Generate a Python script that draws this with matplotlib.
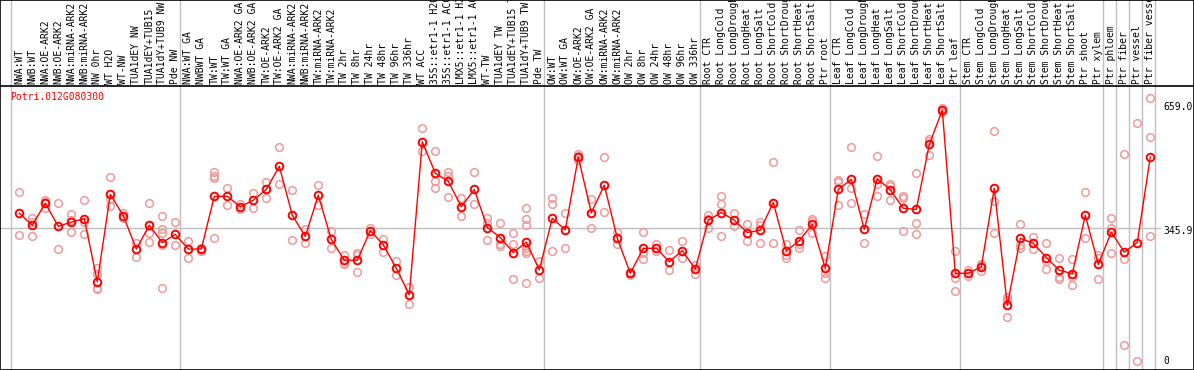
import numpy as np
import matplotlib
matplotlib.use("Agg")
import matplotlib.pyplot as plt

# sample labels, grouped as in the chart (group sizes give the grey separators)
g_nw = ["NWA:WT", "NWB:WT", "NWA:OE-ARK2", "NWB:OE-ARK2", "NWA:miRNA-ARK2", "NWB:miRNA-ARK2",
        "NW 0hr", "WT H2O", "WT-NW", "TUA1dEY NW", "TUA1dEY+TUB15", "TUA1dY+TUB9 NW", "Pde NW"]
g_tw = ["NWA:WT GA", "NWBWT GA", "TW:WT", "TW:WT GA", "NWA:OE-ARK2 GA", "NWB:OE-ARK2 GA",
        "TW:OE-ARK2", "TW:OE-ARK2 GA", "NWA:miRNA-ARK2", "NWB:miRNA-ARK2", "TW:miRNA-ARK2",
        "TW:miRNA-ARK2", "TW 2hr", "TW 8hr", "TW 24hr", "TW 48hr", "TW 96hr", "TW 336hr",
        "WT ACC", "35S::etr1-1 H2O", "35S::etr1-1 ACC", "LMX5::etr1-1 H2O", "LMX5::etr1-1 ACC",
        "WT-TW", "TUA1dEY TW", "TUA1dEY+TUB15 TW", "TUA1dY+TUB9 TW", "Pde TW"]
g_ow = ["OW:WT", "OW:WT GA", "OW:OE-ARK2", "OW:OE-ARK2 GA", "OW:miRNA-ARK2", "OW:miRNA-ARK2",
        "OW 2hr", "OW 8hr", "OW 24hr", "OW 48hr", "OW 96hr", "OW 336hr"]
stress = ["CTR", "LongCold", "LongDrought", "LongHeat", "LongSalt",
          "ShortCold", "ShortDrought", "ShortHeat", "ShortSalt"]
g_root = ["Root " + s for s in stress] + ["Ptr root"]
g_leaf = ["Leaf " + s for s in stress] + ["Ptr leaf"]
g_stem = ["Stem " + s for s in stress] + ["Ptr shoot", "Ptr xylem"]
g_ptr = [["Ptr phloem"], ["Ptr fiber"], ["Ptr vessel"], ["Ptr fiber vessel"]]

groups = [g_nw, g_tw, g_ow, g_root, g_leaf, g_stem] + g_ptr
labels = [l for g in groups for l in g]

# mean expression per sample
means = [384, 353, 410, 350, 361, 370, 206, 433, 378, 291, 353, 308, 329,
         291, 291, 428, 428, 401, 418, 446, 506, 379, 324, 431, 316, 262, 262, 339, 302,
         241, 172, 570, 488, 467, 401, 446, 347, 321, 282, 309, 237,
         371, 341, 530, 385, 457, 319, 228, 293, 293, 258, 287, 239,
         366, 386, 366, 334, 340, 412, 286, 313, 355, 241,
         446, 472, 342, 474, 445, 397, 394, 563, 652, 228,
         228, 245, 449, 145, 319, 306, 269, 236, 227, 379, 251,
         335, 283, 308, 530]

# individual replicates per sample
reps = [[440, 327], [372, 324, 362], [418, 397, 414], [410, 291], [382, 336, 366],
        [418, 329, 362], [241, 226, 190, 186], [477, 403, 420], [384, 372], [308, 271],
        [412, 334, 310], [377, 342, 332, 302, 191], [361, 301],
        [312, 269], [295, 287], [490, 481, 475, 321], [450, 405], [408, 394], [438, 397],
        [466, 446, 423], [555, 459], [444, 315], [343, 308], [457, 405], [338, 295],
        [276, 256, 252], [282, 276, 232], [347, 331], [318, 284],
        [260, 223], [193, 147], [605, 546], [546, 469, 449], [490, 482, 426], [425, 377],
        [490, 407], [371, 360, 315], [360, 304, 299], [333, 303, 212],
        [397, 368, 354, 293, 287, 280, 202], [261, 215],
        [425, 407, 286], [386, 295], [539, 534, 522], [420, 347], [530, 387], [335, 305],
        [232, 224], [335, 282, 264], [304, 286], [288, 236], [312, 269], [250, 227],
        [379, 347, 370], [429, 407, 324], [385, 352], [356, 311], [362, 354, 308],
        [516, 308], [305, 276, 269], [341, 293, 305], [369, 332, 364], [273, 230, 217],
        [470, 465, 405], [555, 451, 410], [381, 306], [533, 461, 430], [459, 456, 419],
        [430, 423, 338], [488, 360, 330], [577, 571, 535], [658, 648], [286, 217, 181],
        [236, 220], [250, 234, 251], [597, 416, 332], [167, 158, 114], [356, 302, 293],
        [322, 291], [308, 238, 260], [267, 219, 213], [265, 219, 198], [440, 319],
        [276, 267, 213], [373, 345, 282], [539, 264, 42], [618, 0], [683, 581, 324]]

ticks = [0, 345.9, 659.0]
tick_text = ["0", "345.9", "659.0"]
gene = "Potri.012G080300"

W, H = 1194, 370
fig = plt.figure(figsize=(W / 100, H / 100), dpi=100)
ax = fig.add_axes([0, 0, 1, 1])

# pixel geometry of the original: column i centred at 19.3 + 13*i px,
# value v at 361 - 0.3847*v px from the top
x0, dx = 19.3, 13.0
ax.set_xlim(-x0 / dx, (W - x0) / dx)
ax.set_ylim((361 - H) / 0.3847, 361 / 0.3847)
ax.set_xticks([])
ax.set_yticks([])
for s in ax.spines.values():
    s.set_color("black")
    s.set_linewidth(1.2)

mono = "DejaVu Sans Mono"
grey = "#c0c0c0"

# group separators
bounds = np.cumsum([len(g) for g in groups]) - 1 + 5 / dx
for b in list(bounds) + [-8.6 / dx]:
    ax.axvline(b, color=grey, lw=1, zorder=1)

header_y = (361 - 85.5) / 0.3847
ax.axhline(header_y, color="black", lw=1.2, zorder=2)
ax.axhline(ticks[1], xmax=1160 / W, color=grey, lw=1, zorder=1)

x = np.arange(len(labels))
for i, r in enumerate(reps):
    ax.plot([i] * len(r), r, "o", mfc="none", mec="#ee9a9a", ms=5.5, mew=1.1, zorder=3)
ax.plot(x, means, "-", color="red", lw=1, zorder=4)
ax.plot(x, means, "o", mfc="none", mec="red", ms=5.5, mew=1.4, zorder=5)

label_y = (361 - 83.5) / 0.3847
for i, l in enumerate(labels):
    ax.text(i, label_y, l, rotation=90, ha="center", va="bottom",
            fontsize=7, family=mono, color="black")

ax.text(10 / W, 1 - 97 / H, gene, transform=ax.transAxes, ha="left", va="center",
        fontsize=7, family=mono, color="red")

tick_shift = [0, -3, 0]
for t, s, dy in zip(ticks, tick_text, tick_shift):
    ax.annotate(s, (1163 / W, t), xycoords=ax.get_yaxis_transform(),
                xytext=(0, dy * 0.72), textcoords="offset points",
                ha="left", va="center", fontsize=7, family=mono, color="black")

fig.savefig("out.png", dpi=100)
